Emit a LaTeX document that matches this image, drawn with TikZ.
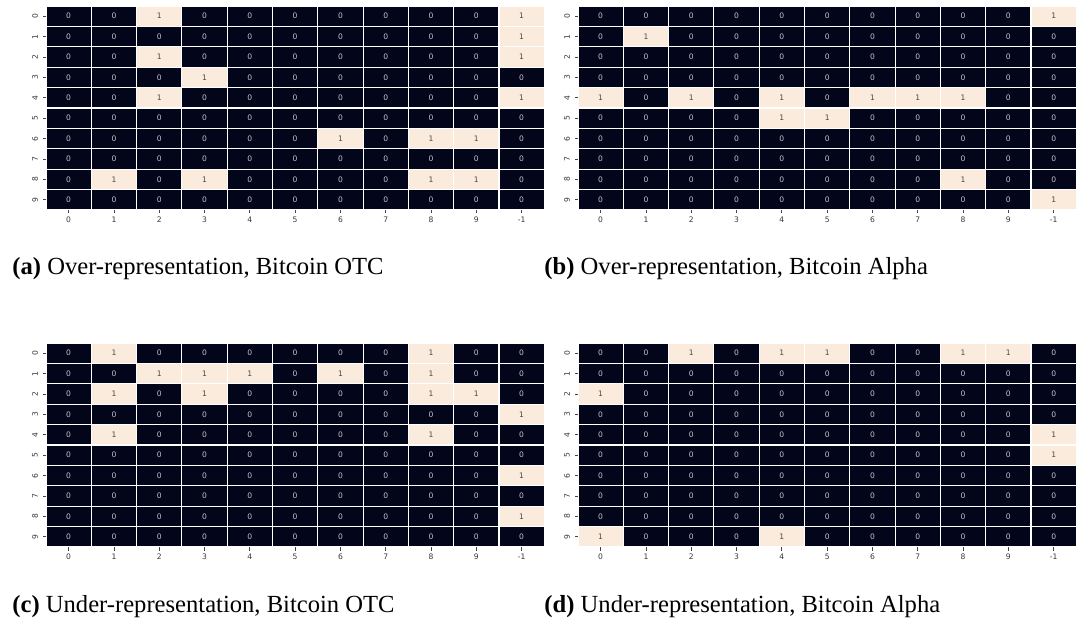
\documentclass[tikz,border=0pt]{standalone}
\usepackage{fontspec}
\setmainfont{Liberation Serif}
\newfontfamily\dvsans{DejaVu Sans}
\definecolor{cdark}{HTML}{03051A}
\definecolor{clight}{HTML}{FAEBDD}
\definecolor{tdark}{HTML}{C4C4C4}
\definecolor{tlight}{HTML}{4A4A4A}
\definecolor{tickc}{HTML}{444444}
\tikzset{
  cellnum/.style={font=\dvsans\fontsize{3.3}{3.7}\selectfont, inner sep=0pt},
  ticklab/.style={font=\dvsans\fontsize{3.3}{3.7}\selectfont, inner sep=0pt, text=tickc!80!black},
  tickline/.style={draw=tickc, line width=0.35pt},
  cellbox/.style={draw=white, line width=0.5pt},
  captext/.style={font=\fontsize{10.7}{12.8}\selectfont, inner sep=0pt, anchor=base west}
}
\def\cw{45.3}
\def\ch{20.4}
\newcommand\hmap[4]{%
  \foreach \row [count=\r from 0] in {#4} {
    \foreach \v [count=\c from 0] in \row {
      \pgfmathsetmacro\xa{#1+\c*\cw}
      \pgfmathsetmacro\ya{#2+\r*\ch}
      \ifnum\v=1 \def\fc{clight}\def\tc{tlight}\else\def\fc{cdark}\def\tc{tdark}\fi
      \path[cellbox, fill=\fc] (\xa,\ya) rectangle ++(\cw,\ch);
      \node[cellnum, text=\tc] (#3-\r-\c) at (\xa+\cw/2, \ya+\ch/2) {\v};
    }
  }
  \foreach \r in {0,...,9} {
    \coordinate (#3-yt\r) at (#1, #2+\r*\ch+\ch/2);
    \draw[tickline] (#3-yt\r) -- ++(-3.5,0);
    \node[ticklab, rotate=90] (#3-yl\r) at (#1-11, #2+\r*\ch+\ch/2) {\r};
  }
  \foreach \lab [count=\c from 0] in {0,1,2,3,4,5,6,7,8,9,-1} {
    \coordinate (#3-xt\c) at (#1+\c*\cw+\cw/2, #2+10*\ch);
    \draw[tickline] (#3-xt\c) -- ++(0,3.5);
    \node[ticklab] (#3-xl\c) at (#1+\c*\cw+\cw/2, #2+10*\ch+9.5) {\lab};
  }
}
\begin{document}
\begin{tikzpicture}[x=0.43494pt, y=-0.43494pt]
\useasboundingbox (0,0) rectangle (1076,620);
% (a)
\hmap{46}{6}{a}{
{0,0,1,0,0,0,0,0,0,0,1},
{0,0,0,0,0,0,0,0,0,0,1},
{0,0,1,0,0,0,0,0,0,0,1},
{0,0,0,1,0,0,0,0,0,0,0},
{0,0,1,0,0,0,0,0,0,0,1},
{0,0,0,0,0,0,0,0,0,0,0},
{0,0,0,0,0,0,1,0,1,1,0},
{0,0,0,0,0,0,0,0,0,0,0},
{0,1,0,1,0,0,0,0,1,1,0},
{0,0,0,0,0,0,0,0,0,0,0}}
% (b)
\hmap{578}{6}{b}{
{0,0,0,0,0,0,0,0,0,0,1},
{0,1,0,0,0,0,0,0,0,0,0},
{0,0,0,0,0,0,0,0,0,0,0},
{0,0,0,0,0,0,0,0,0,0,0},
{1,0,1,0,1,0,1,1,1,0,0},
{0,0,0,0,1,1,0,0,0,0,0},
{0,0,0,0,0,0,0,0,0,0,0},
{0,0,0,0,0,0,0,0,0,0,0},
{0,0,0,0,0,0,0,0,1,0,0},
{0,0,0,0,0,0,0,0,0,0,1}}
% (c)
\hmap{46}{343}{c}{
{0,1,0,0,0,0,0,0,1,0,0},
{0,0,1,1,1,0,1,0,1,0,0},
{0,1,0,1,0,0,0,0,1,1,0},
{0,0,0,0,0,0,0,0,0,0,1},
{0,1,0,0,0,0,0,0,1,0,0},
{0,0,0,0,0,0,0,0,0,0,0},
{0,0,0,0,0,0,0,0,0,0,1},
{0,0,0,0,0,0,0,0,0,0,0},
{0,0,0,0,0,0,0,0,0,0,1},
{0,0,0,0,0,0,0,0,0,0,0}}
% (d)
\hmap{578}{343}{d}{
{0,0,1,0,1,1,0,0,1,1,0},
{0,0,0,0,0,0,0,0,0,0,0},
{1,0,0,0,0,0,0,0,0,0,0},
{0,0,0,0,0,0,0,0,0,0,0},
{0,0,0,0,0,0,0,0,0,0,1},
{0,0,0,0,0,0,0,0,0,0,1},
{0,0,0,0,0,0,0,0,0,0,0},
{0,0,0,0,0,0,0,0,0,0,0},
{0,0,0,0,0,0,0,0,0,0,0},
{1,0,0,0,1,0,0,0,0,0,0}}
\node[captext] (capa) at (12,275) {\textbf{(a)} Over-representation, Bitcoin OTC};
\node[captext] (capb) at (544,275) {\textbf{(b)} Over-representation, Bitcoin Alpha};
\node[captext] (capc) at (12,612) {\textbf{(c)} Under-representation, Bitcoin OTC};
\node[captext] (capd) at (544,612) {\textbf{(d)} Under-representation, Bitcoin Alpha};
\end{tikzpicture}
\end{document}
